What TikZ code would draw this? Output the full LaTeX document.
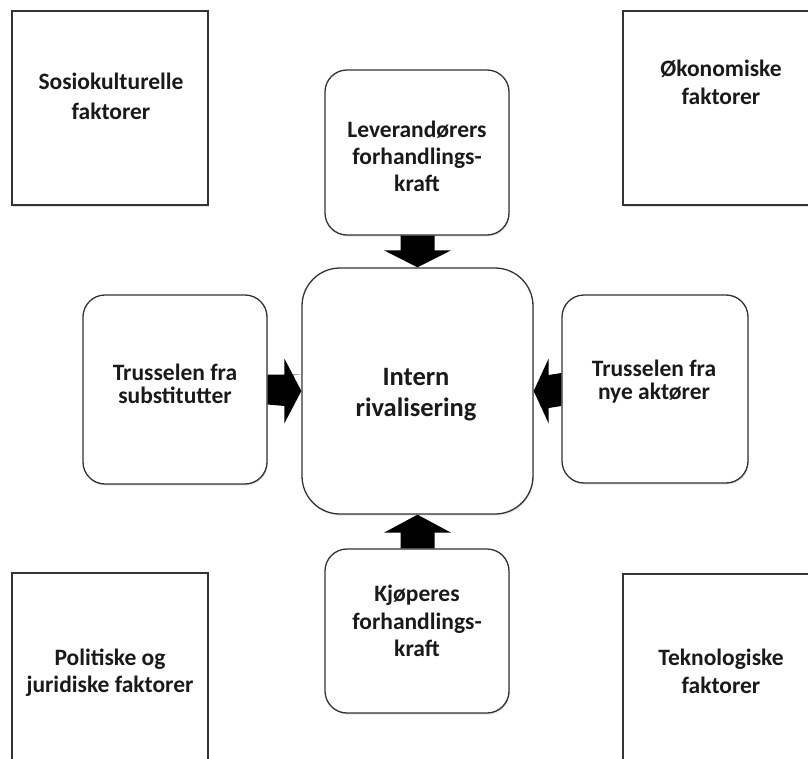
\documentclass[tikz,border=0pt]{standalone}
\usepackage{fontspec}
\setmainfont{Carlito}
\usetikzlibrary{calc,shadows}
\definecolor{boxline}{HTML}{333333}
\definecolor{labelink}{HTML}{1A1A1A}
\tikzset{
  frame/.style={draw=boxline, line width=1.3pt, fill=white, inner sep=0pt,
    drop shadow={shadow xshift=0.8pt, shadow yshift=-1.6pt, opacity=0.22}},
  factorbox/.style={frame, rectangle, minimum width=196pt, minimum height=194pt},
  forcebox/.style={frame, rectangle, rounded corners=22pt},
  corebox/.style={frame, rectangle, rounded corners=38pt,
    minimum width=231pt, minimum height=246pt},
  lbl/.style={align=center, inner sep=0pt, text=labelink,
    font=\bfseries\fontsize{23.5}{#1}\selectfont},
  lbl/.default=28pt,
  bigarrow/.style={fill=black},
}
\begin{document}
\begin{tikzpicture}[x=1pt, y=-1pt]
\useasboundingbox (0,0) rectangle (808,759);
\clip (0,0) rectangle (808,759);

% PEST factors in the corners
\node[factorbox] (sos) at (110,108) {};
\node[factorbox] (oko) at (721,108) {};
\node[factorbox] (pol) at (110,670) {};
\node[factorbox] (tek) at (721,671) {};
\node[lbl=30pt] (sosT) at (111,96.5) {Sosiokulturelle\\faktorer};
\node[lbl=28pt] (okoT) at (721,82.5) {Økonomiske\\faktorer};
\node[lbl=27pt] (polT) at (110,673) {Politiske og\\juridiske faktorer};
\node[lbl=28pt] (tekT) at (721,671) {Teknologiske\\faktorer};

% Five forces
\node[corebox] (cen) at (417.5,391) {};
\node[forcebox, minimum width=184pt, minimum height=165pt] (lev) at (417,152.5) {};
\node[forcebox, minimum width=184pt, minimum height=164pt] (kjo) at (417,631) {};
\node[forcebox, minimum width=184pt, minimum height=189pt] (sub) at (175,389.5) {};
\node[forcebox, minimum width=186pt, minimum height=188pt] (nye) at (655,389) {};

\node[font=\bfseries\fontsize{26.5}{31}\selectfont, align=center, inner sep=0pt,
  text=labelink] (cenT) at (416,395) {Intern\\rivalisering};
\node[lbl=27pt] (levT) at (417,156.5) {Leverandørers\\forhandlings-\\kraft};
\node[lbl=27.5pt] (kjoT) at (417,621) {Kjøperes\\forhandlings-\\kraft};
\node[lbl=23.5pt] (subT) at (175,384) {Trusselen fra\\substitutter};
\node[lbl=23pt] (nyeT) at (654,381.5) {Trusselen fra\\nye aktører};

% Block arrows pointing into the central box
\fill[bigarrow] ($(cen.north |- lev.south)+(-17,0)$) -- ($(cen.north |- lev.south)+(17,0)$)
  -- ($(cen.north)+(17,-17)$) -- ($(cen.north)+(33.5,-17)$) -- (cen.north)
  -- ($(cen.north)+(-33.5,-17)$) -- ($(cen.north)+(-17,-17)$) -- cycle;
\fill[bigarrow] ($(cen.south |- kjo.north)+(-17,0)$) -- ($(cen.south |- kjo.north)+(17,0)$)
  -- ($(cen.south)+(17,18)$) -- ($(cen.south)+(33.5,18)$) -- (cen.south)
  -- ($(cen.south)+(-33.5,18)$) -- ($(cen.south)+(-17,18)$) -- cycle;
\fill[bigarrow] ($(cen.west |- sub.east)+(0,-15)$) -| ($(sub.east)+(0,15)$)
  -- ($(cen.west)+(-17,15)$) -- ($(cen.west)+(-17,32.5)$) -- (cen.west)
  -- ($(cen.west)+(-17,-32.5)$) -- ($(cen.west)+(-17,-15)$) -- cycle;
\fill[bigarrow] ($(nye.west)+(0,-16)$) -- ($(nye.west)+(0,17)$)
  -- ($(cen.east)+(15,17)$) -- ($(cen.east)+(15,32.5)$) -- (cen.east)
  -- ($(cen.east)+(15,-32.5)$) -- ($(cen.east)+(15,-16)$) -- cycle;
\end{tikzpicture}
\end{document}
